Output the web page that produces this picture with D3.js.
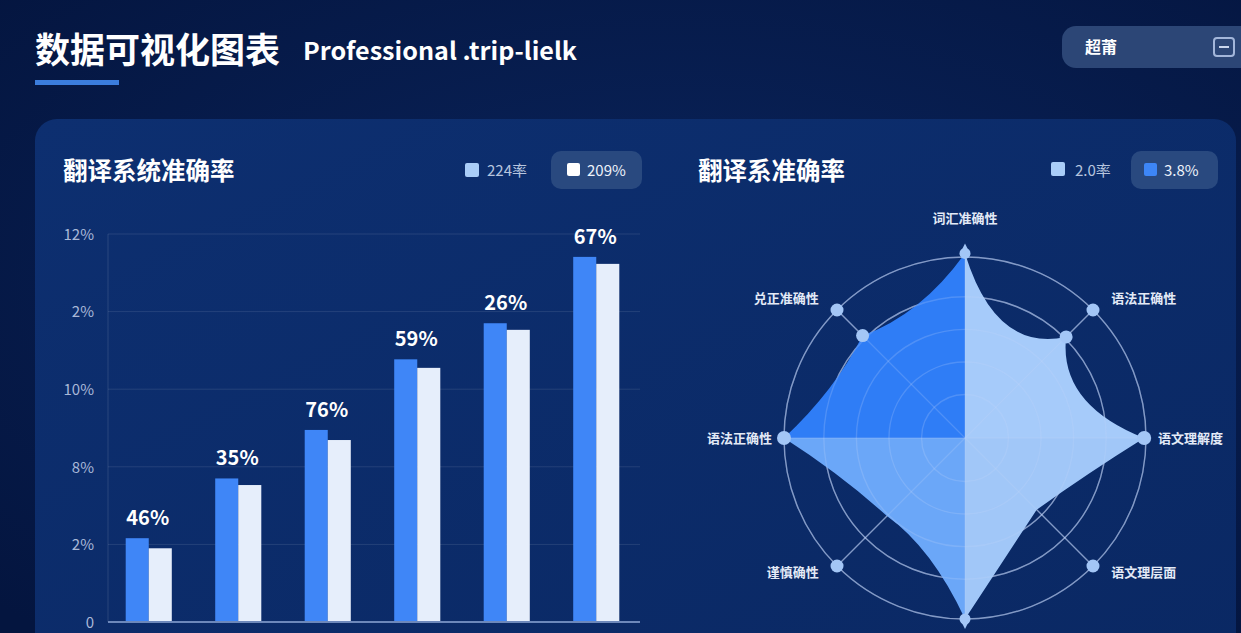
<!DOCTYPE html>
<html><head><meta charset="utf-8">
<script src="https://cdn.jsdelivr.net/npm/d3@7/dist/d3.min.js"></script>
<style>
html,body{margin:0;padding:0;background:#061a48;overflow:hidden;}
svg{display:block;}
text{font-family:"Noto Sans CJK SC","Noto Sans",sans-serif;}
</style></head>
<body>
<svg id="c" width="1241" height="633"></svg>
<script>
// ---------- data ----------
const categories = ["系统A","系统B","系统C","系统D","系统E","系统F"];
const seriesBlue  = [21.6, 37.0, 49.5, 67.7, 77.0, 94.1];
const seriesWhite = [19.0, 35.3, 46.9, 65.5, 75.3, 92.3];
const barLabels = ["46%","35%","76%","59%","26%","67%"];
const yTickValues = [0, 20, 40, 60, 80, 100];
const yTickLabels = ["0","2%","8%","10%","2%","12%"];
const legendBar = ["224率","209%"];
const legendRadar = ["2.0率","3.8%"];

const radarAxes = ["词汇准确性","语法正确性","语文理解度","语文理层面","","谨慎确性","语法正确性","兑正准确性"];
const radarValues = [1.02, 0.79, 0.99, 0.56, 1.0, 0.61, 1.0, 0.80];
const ringLevels = [0.24, 0.42, 0.6, 0.78, 1.0];

// ---------- drawing ----------
const svg = d3.select("#c");
const defs = svg.append("defs");

const bg = defs.append("radialGradient").attr("id","bg").attr("cx","55%").attr("cy","45%").attr("r","75%");
bg.append("stop").attr("offset","0%").attr("stop-color","#0a245c");
bg.append("stop").attr("offset","100%").attr("stop-color","#04153f");
svg.append("rect").attr("width",1241).attr("height",633).attr("fill","url(#bg)");

const pg = defs.append("linearGradient").attr("id","pg").attr("x1","0").attr("y1","0").attr("x2","1").attr("y2","1");
pg.append("stop").attr("offset","0%").attr("stop-color","#0d2f70");
pg.append("stop").attr("offset","100%").attr("stop-color","#0a2863");

// header
svg.append("text").attr("x",35).attr("y",63).attr("font-size",35).attr("font-weight",700)
  .attr("fill","#ffffff").text("数据可视化图表");
svg.append("text").attr("x",303).attr("y",60).attr("font-size",24).attr("font-weight",600)
  .attr("font-family","'Noto Sans',sans-serif").attr("fill","#ffffff")
  .attr("textLength",274).attr("lengthAdjust","spacingAndGlyphs").text("Professional .trip-lielk");
svg.append("rect").attr("x",35).attr("y",80).attr("width",84).attr("height",5).attr("fill","#3b7ddd");

// top-right selector
svg.append("rect").attr("x",1062).attr("y",26).attr("width",220).attr("height",42).attr("rx",14).attr("fill","#2c4676");
svg.append("text").attr("x",1085).attr("y",53).attr("font-size",16).attr("font-weight",700).attr("fill","#ffffff").text("超莆");
svg.append("rect").attr("x",1214).attr("y",38).attr("width",20).attr("height",18).attr("rx",3)
  .attr("fill","none").attr("stroke","#a3b6da").attr("stroke-width",2);
svg.append("line").attr("x1",1219).attr("x2",1229).attr("y1",47).attr("y2",47).attr("stroke","#c9d6ee").attr("stroke-width",2);

// main panel
svg.append("rect").attr("x",35).attr("y",119).attr("width",1201).attr("height",600).attr("rx",22).attr("fill","url(#pg)");

// ---------- bar chart ----------
svg.append("text").attr("x",63).attr("y",180).attr("font-size",24.5).attr("font-weight",700).attr("fill","#ffffff").text("翻译系统准确率");
svg.append("rect").attr("x",465).attr("y",163).attr("width",14).attr("height",14).attr("rx",2).attr("fill","#a9cdf8");
svg.append("text").attr("x",487).attr("y",176).attr("font-size",15).attr("fill","#b7c5df").text(legendBar[0]);
svg.append("rect").attr("x",551).attr("y",151).attr("width",91).attr("height",38).attr("rx",10).attr("fill","#29497f");
svg.append("rect").attr("x",567).attr("y",163).attr("width",13).attr("height",13).attr("rx",2).attr("fill","#ffffff");
svg.append("text").attr("x",587).attr("y",176).attr("font-size",15).attr("fill","#eef3fb").text(legendBar[1]);

const y = d3.scaleLinear().domain([0,100]).range([622,234]);
const x0 = d3.scaleBand().domain(categories).range([104,641]).padding(0);
const groupW = x0.bandwidth()*0.515;
const x1 = d3.scaleBand().domain(["blue","white"]).range([0,groupW]).padding(0);

const gridG = svg.append("g");
gridG.selectAll("line").data(yTickValues.slice(1)).join("line")
  .attr("x1",108).attr("x2",640).attr("y1",d=>y(d)).attr("y2",d=>y(d))
  .attr("stroke","#ffffff").attr("stroke-opacity",0.1).attr("stroke-width",1);
svg.append("line").attr("x1",108).attr("x2",108).attr("y1",y(100)).attr("y2",y(0))
  .attr("stroke","#ffffff").attr("stroke-opacity",0.12);

const yAxis = d3.axisLeft(y).tickValues(yTickValues).tickSize(0).tickPadding(0)
  .tickFormat((d,i)=>yTickLabels[i]);
const ya = svg.append("g").attr("transform","translate(94,0)").call(yAxis);
ya.select(".domain").remove();
ya.selectAll("text").attr("font-size",15).attr("fill","#a9b8d8")
  .attr("font-family","'Noto Sans',sans-serif").attr("dy","0.35em");

const groups = svg.append("g").selectAll("g").data(categories).join("g")
  .attr("transform",d=>`translate(${x0(d)+(x0.bandwidth()-groupW)/2},0)`);
groups.append("rect").attr("x",x1("blue")).attr("width",x1.bandwidth())
  .attr("y",(d,i)=>y(seriesBlue[i])).attr("height",(d,i)=>y(0)-y(seriesBlue[i])).attr("fill","#3f86f7");
groups.append("rect").attr("x",x1("white")).attr("width",x1.bandwidth())
  .attr("y",(d,i)=>y(seriesWhite[i])).attr("height",(d,i)=>y(0)-y(seriesWhite[i])).attr("fill","#e6eefb");
groups.append("text").attr("x",groupW/2-1).attr("y",(d,i)=>y(seriesBlue[i])-13)
  .attr("text-anchor","middle").attr("font-size",20).attr("font-weight",700)
  .attr("font-family","'Noto Sans',sans-serif").attr("fill","#ffffff").text((d,i)=>barLabels[i]);

const xa = svg.append("g").attr("transform",`translate(0,${y(0)})`)
  .call(d3.axisBottom(x0).tickSize(0).tickFormat(""));
xa.select(".domain").attr("stroke","#6d88bb").attr("stroke-width",2).attr("d","M108,0H640");

// ---------- radar ----------
svg.append("text").attr("x",698).attr("y",180).attr("font-size",24.5).attr("font-weight",700).attr("fill","#ffffff").text("翻译系准确率");
svg.append("rect").attr("x",1051).attr("y",162).attr("width",14).attr("height",14).attr("rx",2).attr("fill","#a9cdf8");
svg.append("text").attr("x",1075).attr("y",176).attr("font-size",15).attr("fill","#b7c5df").text(legendRadar[0]);
svg.append("rect").attr("x",1131).attr("y",151).attr("width",87).attr("height",38).attr("rx",10).attr("fill","#29497f");
svg.append("rect").attr("x",1144).attr("y",163).attr("width",13).attr("height",13).attr("rx",2).attr("fill","#3d86f7");
svg.append("text").attr("x",1164).attr("y",176).attr("font-size",15).attr("fill","#eef3fb").text(legendRadar[1]);

const cx = 965, cy = 438, R = 181;
const r = d3.scaleLinear().domain([0,1]).range([0,R]);
const n = radarAxes.length;
const ang = d3.scaleLinear().domain([0,n]).range([0,2*Math.PI]);
const pt = (i,v)=>[cx + r(v)*Math.sin(ang(i)), cy - r(v)*Math.cos(ang(i))];
const edgeBend = [0.6, 0.67, 0.98, 1.0, 0.85, 0.95, 0.92, 0.86];

const rg = svg.append("g");
function drawGrid(g, op){
  g.selectAll("circle.ring").data(ringLevels).join("circle").attr("class","ring")
    .attr("cx",cx).attr("cy",cy).attr("r",d=>r(d))
    .attr("fill","none").attr("stroke","#c6d8fb").attr("stroke-opacity",op).attr("stroke-width",1.4);
  g.selectAll("line.ax").data(radarAxes).join("line").attr("class","ax")
    .attr("x1",cx).attr("y1",cy).attr("x2",(d,i)=>pt(i,1)[0]).attr("y2",(d,i)=>pt(i,1)[1])
    .attr("stroke","#c6d8fb").attr("stroke-opacity",op).attr("stroke-width",1.3);
}
drawGrid(rg.append("g"), 0.55);

const pts = radarValues.map((v,i)=>pt(i,v));
const path = d3.path();
path.moveTo(pts[0][0], pts[0][1]);
for(let i=0;i<n;i++){
  const a = pts[i], b = pts[(i+1)%n], k = edgeBend[i];
  const mx = (a[0]+b[0])/2 - cx, my = (a[1]+b[1])/2 - cy;
  path.quadraticCurveTo(cx + k*mx, cy + k*my, b[0], b[1]);
}
path.closePath();
defs.append("clipPath").attr("id","radarClip").append("path").attr("d",path.toString());

const quads = [
  {x:cx-R-30, y:cy-R-30, c:"#2f7df6"},
  {x:cx,      y:cy-R-30, c:"#a6cbfa"},
  {x:cx-R-30, y:cy,      c:"#6ba7f8"},
  {x:cx,      y:cy,      c:"#a1c7f8"}
];
rg.append("g").attr("clip-path","url(#radarClip)").selectAll("rect").data(quads).join("rect")
  .attr("x",d=>d.x).attr("y",d=>d.y).attr("width",R+30).attr("height",R+30).attr("fill",d=>d.c);

drawGrid(rg.append("g"), 0.22);

// outer markers on diagonal axes
rg.selectAll("circle.om").data(radarAxes.map((d,i)=>i).filter(i=>i%2===1)).join("circle").attr("class","om")
  .attr("cx",i=>pt(i,1)[0]).attr("cy",i=>pt(i,1)[1]).attr("r",6.5).attr("fill","#a3c6f6");
// data point markers
rg.selectAll("circle.dp").data(radarValues.map((v,i)=>i).filter(i=>radarValues[i]>0.7 && i%2===1)).join("circle").attr("class","dp")
  .attr("cx",i=>pts[i][0]).attr("cy",i=>pts[i][1]).attr("r",6.5).attr("fill","#a3c6f6");
// cardinal vertices: round + pointed tips
radarValues.forEach((v,i)=>{
  if(i%2!==0) return;
  const [px,py] = pts[i];
  const a = ang(i), ux = Math.sin(a), uy = -Math.cos(a);
  const g = rg.append("g");
  g.append("circle").attr("cx",px).attr("cy",py).attr("r",(i===0||i===4)?5.5:7).attr("fill","#a3c6f6");
  if(i===0||i===4){
    const tip=[px+ux*10, py+uy*10], px2=-uy, py2=ux;
    g.append("path").attr("d",`M${px+px2*5},${py+py2*5}L${tip[0]},${tip[1]}L${px-px2*5},${py-py2*5}Z`).attr("fill","#a3c6f6");
  }
});

// axis labels (the bottom axis label is outside the visible area in the reference)
const lblDy = [0,-8,0,2,0,2,0,-8];
rg.selectAll("text.al").data(radarAxes.map((d,i)=>({d,i})).filter(o=>o.d!=="")).join("text").attr("class","al")
  .attr("x",({i})=>{const ux=Math.sin(ang(i)); if(Math.abs(ux)<0.01) return cx;
      const off = Math.abs(ux)>0.99 ? 6 : 14; return cx+ux*(R+6)+Math.sign(ux)*off;})
  .attr("y",({i})=>{
    if(i===0) return 223;
    return cy - Math.cos(ang(i))*(R+6) + lblDy[i] + 5;})
  .attr("text-anchor",({i})=>{const s=Math.sin(ang(i)); return Math.abs(s)<0.01?"middle":(s>0?"start":"end");})
  .attr("font-size",13).attr("font-weight",700).attr("fill","#e3eaf7").text(o=>o.d);
</script>
</body></html>
